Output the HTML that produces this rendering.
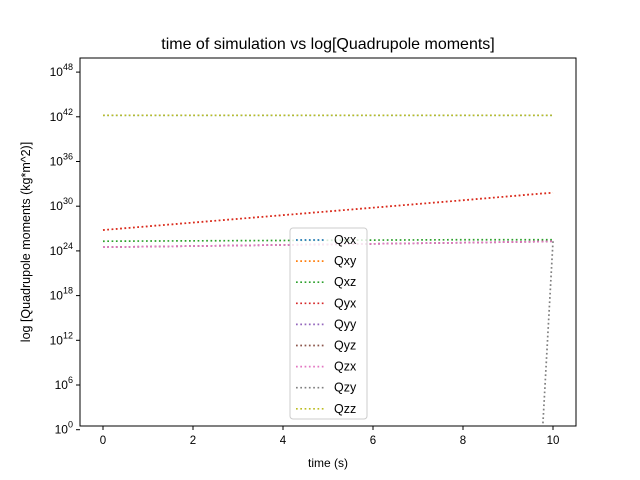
<!DOCTYPE html>
<html><head><meta charset="utf-8"><style>body{margin:0;background:#fff}svg{display:block;font-family:"Liberation Sans","DejaVu Sans",sans-serif}</style></head>
<body>
<svg id="chart" width="640" height="480" xmlns="http://www.w3.org/2000/svg"></svg>
<script>
const times = [0, 2, 4, 6, 8, 9.75, 10];
const seriesNames = ["Qxx","Qxy","Qxz","Qyx","Qyy","Qyz","Qzx","Qzy","Qzz"];
const colors = ["#1f77b4","#ff7f0e","#2ca02c","#d62728","#9467bd","#8c564b","#e377c2","#7f7f7f","#bcbd22"];
// log10 exponents of values
const logQxx = [42.2,42.2,42.2,42.2,42.2,42.2,42.2];
const logQxy = [26.8,27.8,28.8,29.8,30.8,31.7,31.8];
const logQxz = [25.3,25.35,25.4,25.45,25.5,25.5,25.5];
const logQyx = [26.8,27.8,28.8,29.8,30.8,31.7,31.8];
const logQyy = [24.5,24.65,24.8,24.95,25.1,25.25,25.3];
const logQyz = [24.5,24.65,24.8,24.95,25.1,25.25,25.3];
const logQzx = [24.5,24.65,24.8,24.95,25.1,25.25,25.3];
const logQzy = [-2,-2,-2,-2,-2,-2,25.3];
const logQzz = [42.2,42.2,42.2,42.2,42.2,42.2,42.2];
const allSeries = [logQxx,logQxy,logQxz,logQyx,logQyy,logQyz,logQzx,logQzy,logQzz];
const xTicks = [0,2,4,6,8,10];
const yTicks = [0,6,12,18,24,30,36,42,48];

const NS="http://www.w3.org/2000/svg";
const svg=document.getElementById('chart');
const L=80,R=576,T=58,B=426;
const xScale=t=>103+(t-0)*45;
const yScale=e=>385-(e-6)*7.45;
function mk(tag,attrs,parent){const el=document.createElementNS(NS,tag);for(const k in attrs)el.setAttribute(k,attrs[k]);(parent||svg).appendChild(el);return el;}

const defs=mk('defs',{});
const cp=mk('clipPath',{id:'clip'},defs);
mk('rect',{x:L,y:T,width:R-L,height:B-T},cp);

const title=mk('text',{x:328,y:49,'text-anchor':'middle','font-size':16,fill:'#000'});
title.textContent='time of simulation vs log[Quadrupole moments]';



const plot=mk('g',{'clip-path':'url(#clip)'});


allSeries.forEach((s,i)=>{
  const pts=s.map((v,j)=>xScale(times[j]).toFixed(2)+','+yScale(v).toFixed(2)).join(' ');
  const pl=mk('polyline',{points:pts,fill:'none',stroke:colors[i],'stroke-width':1.7,'stroke-dasharray':'1.7,2.6'},plot);
  
  
});

const frame=mk('rect',{x:L,y:T,width:R-L,height:B-T,fill:'none',stroke:'#000','stroke-width':1});



xTicks.forEach(t=>{
  const x=xScale(t);
  mk('line',{x1:x,x2:x,y1:B,y2:B+4,stroke:'#000'});
  const tx=mk('text',{x:x,y:B+18,'text-anchor':'middle','font-size':11.5});
  tx.textContent=t;
  
  
});
yTicks.forEach(e=>{
  const y=yScale(e);
  mk('line',{x1:L-4,x2:L,y1:y,y2:y,stroke:'#000'});
  const tx=mk('text',{x:L-7,y:y+4,'text-anchor':'end','font-size':12});
  tx.innerHTML='10<tspan dy="-6" font-size="9">'+e+'</tspan>';
  
  
});

const xl=mk('text',{x:328,y:467,'text-anchor':'middle','font-size':12});
xl.textContent='time (s)';


const yl=mk('text',{x:0,y:0,'text-anchor':'middle','font-size':12.5,transform:'translate(30,242) rotate(-90)'});
yl.textContent='log [Quadrupole moments (kg*m^2)]';



const lg=mk('g',{});


mk('rect',{x:290,y:228,width:77,height:191,rx:3,fill:'#fff','fill-opacity':0.8,stroke:'#ccc'},lg);
seriesNames.forEach((n,i)=>{
  const y=240+i*21.1;
  const ln=mk('line',{x1:296,x2:324,y1:y,y2:y,stroke:colors[i],'stroke-width':1.7,'stroke-dasharray':'1.7,2.6'},lg);
  
  
  const tx=mk('text',{x:334,y:y+4,'font-size':12.5},lg);
  tx.textContent=n;
  
  
});
</script>
</body></html>
